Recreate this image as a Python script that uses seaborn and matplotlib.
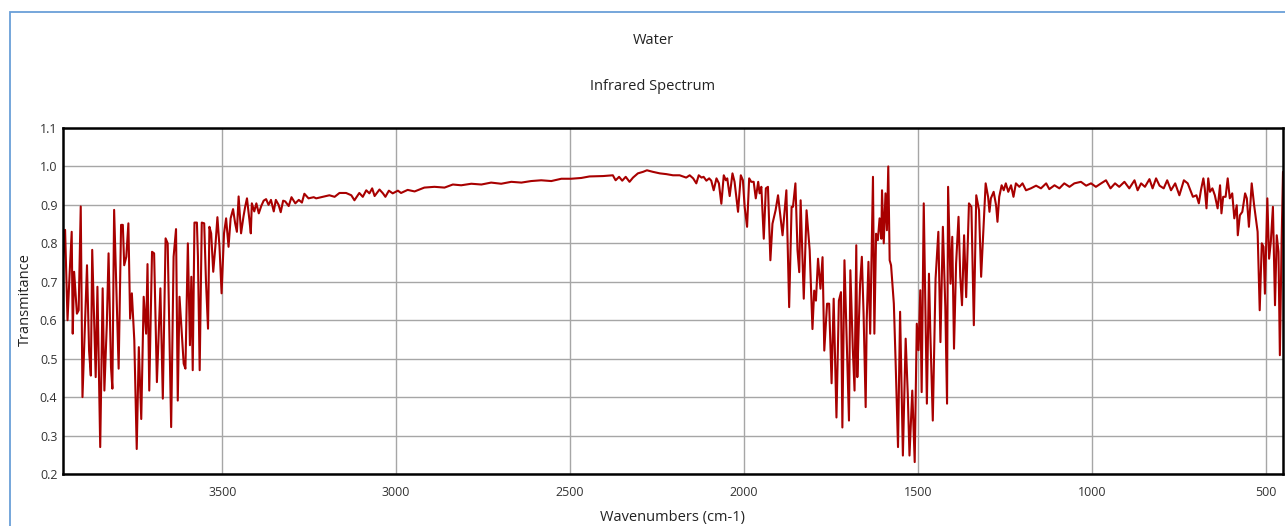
import numpy as np
import pandas as pd
import matplotlib
matplotlib.use("Agg")
import matplotlib.pyplot as plt
from matplotlib.patches import Rectangle
import seaborn as sns

# ---------------- data ----------------
wavenumbers = [
    3958, 3952, 3945, 3939, 3933, 3930, 3926, 3918, 3913, 3907, 3902, 3889, 3883, 3878, 3874,
    3864, 3859, 3851, 3844, 3839, 3832, 3827, 3820, 3816, 3811, 3798, 3791, 3786, 3782, 3776,
    3770, 3765, 3760, 3753, 3746, 3740, 3733, 3726, 3719, 3715, 3710, 3702, 3696, 3688, 3678,
    3671, 3663, 3657, 3647, 3640, 3633, 3628, 3623, 3611, 3606,
    3599, 3593, 3589, 3585, 3580, 3573, 3570, 3565, 3559, 3552, 3547, 3541, 3537, 3532, 3526,
    3520, 3514, 3508, 3502, 3495, 3489, 3482, 3476, 3469, 3463, 3458, 3453, 3446, 3439, 3434,
    3429, 3422, 3418, 3415, 3408, 3402, 3395, 3388, 3381, 3374, 3367, 3360, 3352, 3346, 3338,
    3332, 3325, 3319, 3309, 3301, 3290, 3280, 3271, 3264, 3252, 3237,
    3230, 3211, 3192, 3177, 3163, 3144, 3129, 3120, 3106, 3096, 3086, 3077, 3069, 3062, 3048,
    3038, 3031, 3021, 3010, 2995, 2986, 2967, 2947, 2919, 2890, 2861, 2837, 2813, 2784, 2755,
    2727, 2698, 2669, 2640, 2612, 2583, 2554, 2525, 2497, 2468, 2444,
    2405, 2377, 2369, 2359, 2350, 2340, 2329, 2319, 2305, 2290, 2279, 2262,
    2242, 2223, 2204, 2185, 2166,
    2156, 2146, 2137, 2130, 2122, 2116, 2108, 2100, 2094, 2087, 2079, 2072, 2065, 2058, 2052,
    2048, 2041, 2033, 2027, 2017, 2009, 2003, 1998, 1991, 1985, 1979, 1972, 1966, 1959, 1955,
    1950, 1943, 1937, 1931, 1924, 1918, 1909, 1902, 1889, 1878, 1870, 1863, 1859, 1852, 1846,
    1841, 1837, 1828, 1820, 1811, 1803, 1798, 1793, 1787, 1780, 1774, 1769, 1761, 1755, 1748,
    1742, 1734, 1727, 1721, 1717,
    1711, 1704, 1698, 1694, 1687, 1682, 1677, 1674, 1670, 1666, 1661, 1656, 1650, 1647, 1642,
    1637, 1629, 1625, 1620, 1615, 1610, 1605, 1603, 1598, 1593, 1589, 1585, 1581, 1577, 1569,
    1564, 1557, 1551, 1543, 1535, 1529, 1524, 1516, 1509, 1503, 1498, 1493, 1489, 1483, 1474,
    1468, 1464, 1457, 1449, 1441, 1435, 1428, 1421, 1416, 1413, 1406, 1401, 1396, 1390, 1383,
    1378, 1373, 1367, 1361, 1353, 1346, 1339, 1332, 1324, 1318, 1311, 1305, 1298, 1294,
    1290, 1282, 1275, 1271, 1266, 1259, 1253, 1247, 1240, 1232, 1225, 1218, 1208, 1199, 1189,
    1175, 1160, 1146, 1131, 1122, 1107, 1093, 1079, 1064, 1050, 1031, 1016, 1002, 988, 973,
    959, 946, 933, 921, 906, 892, 877, 868, 858, 847, 834, 825, 815, 805, 793,
    783, 772, 760, 748, 735, 724, 709,
    699, 692, 686, 679, 675, 670, 665, 660, 653, 646, 638, 631, 627, 622, 615,
    609, 603, 596, 590, 583, 580, 574, 567, 559, 554, 548, 540, 533, 528, 523,
    517, 511, 506, 502, 495, 490, 485, 479, 473, 468, 463, 459, 454, 450,
]

transmitance = [
    0.757, 0.835, 0.600, 0.720, 0.830, 0.565, 0.726, 0.617, 0.626, 0.896, 0.400, 0.743, 0.520, 0.456, 0.783,
    0.452, 0.687, 0.270, 0.683, 0.417, 0.590, 0.774, 0.478, 0.422, 0.887, 0.474, 0.848, 0.848, 0.743, 0.765,
    0.852, 0.604, 0.670, 0.548, 0.265, 0.530, 0.343, 0.661, 0.565, 0.746, 0.417, 0.778, 0.774, 0.439, 0.683,
    0.396, 0.813, 0.800, 0.322, 0.765, 0.837, 0.391, 0.661, 0.487, 0.474,
    0.800, 0.535, 0.713, 0.470, 0.854, 0.854, 0.765, 0.470, 0.854, 0.852, 0.704, 0.578, 0.843, 0.826, 0.726,
    0.791, 0.868, 0.791, 0.670, 0.826, 0.865, 0.791, 0.865, 0.889, 0.852, 0.830, 0.922, 0.826, 0.870, 0.896,
    0.917, 0.861, 0.826, 0.904, 0.883, 0.904, 0.878, 0.897, 0.911, 0.915, 0.900, 0.913, 0.883, 0.913, 0.900,
    0.881, 0.911, 0.909, 0.897, 0.920, 0.904, 0.913, 0.906, 0.929, 0.917, 0.920,
    0.917, 0.921, 0.925, 0.921, 0.931, 0.931, 0.925, 0.912, 0.931, 0.921, 0.938, 0.930, 0.943, 0.923, 0.940,
    0.930, 0.921, 0.937, 0.930, 0.937, 0.931, 0.939, 0.935, 0.945, 0.947, 0.945, 0.953, 0.951, 0.955, 0.953,
    0.958, 0.955, 0.960, 0.958, 0.962, 0.964, 0.962, 0.968, 0.968, 0.970, 0.974,
    0.975, 0.977, 0.964, 0.973, 0.963, 0.973, 0.960, 0.971, 0.982, 0.986, 0.990, 0.986,
    0.982, 0.980, 0.977, 0.977, 0.971,
    0.977, 0.969, 0.956, 0.977, 0.971, 0.973, 0.963, 0.969, 0.963, 0.938, 0.969, 0.956, 0.903, 0.977, 0.964,
    0.969, 0.923, 0.982, 0.960, 0.882, 0.977, 0.964, 0.895, 0.843, 0.969, 0.960, 0.960, 0.917, 0.960, 0.930,
    0.947, 0.812, 0.943, 0.947, 0.756, 0.851, 0.886, 0.925, 0.821, 0.938, 0.634, 0.895, 0.895, 0.956, 0.782,
    0.725, 0.912, 0.656, 0.886, 0.782, 0.577, 0.677, 0.651, 0.760, 0.682, 0.764, 0.521, 0.643, 0.643, 0.436,
    0.656, 0.347, 0.651, 0.673, 0.321,
    0.756, 0.530, 0.339, 0.730, 0.526, 0.417, 0.795, 0.452, 0.582, 0.695, 0.765, 0.617, 0.374, 0.600, 0.752,
    0.565, 0.973, 0.565, 0.825, 0.808, 0.865, 0.812, 0.938, 0.800, 0.930, 0.834, 1.000, 0.756, 0.743, 0.643,
    0.495, 0.270, 0.622, 0.248, 0.552, 0.409, 0.248, 0.417, 0.231, 0.591, 0.522, 0.678, 0.413, 0.904, 0.383,
    0.721, 0.565, 0.339, 0.708, 0.830, 0.543, 0.843, 0.635, 0.383, 0.947, 0.695, 0.817, 0.526, 0.747, 0.869,
    0.713, 0.639, 0.821, 0.660, 0.904, 0.895, 0.587, 0.925, 0.886, 0.713, 0.843, 0.956, 0.921, 0.882,
    0.917, 0.934, 0.899, 0.856, 0.921, 0.951, 0.938, 0.956, 0.934, 0.951, 0.921, 0.956, 0.947, 0.956, 0.938,
    0.943, 0.950, 0.943, 0.956, 0.941, 0.951, 0.943, 0.956, 0.947, 0.956, 0.960, 0.950, 0.956, 0.947, 0.956,
    0.964, 0.943, 0.956, 0.947, 0.960, 0.943, 0.964, 0.938, 0.956, 0.947, 0.967, 0.943, 0.969, 0.950, 0.943,
    0.964, 0.938, 0.956, 0.925, 0.964, 0.956, 0.921,
    0.925, 0.904, 0.938, 0.969, 0.943, 0.891, 0.969, 0.934, 0.943, 0.925, 0.891, 0.951, 0.878, 0.921, 0.921,
    0.969, 0.917, 0.930, 0.865, 0.899, 0.821, 0.873, 0.882, 0.930, 0.917, 0.843, 0.956, 0.899, 0.865, 0.830,
    0.626, 0.800, 0.791, 0.669, 0.917, 0.760, 0.804, 0.895, 0.639, 0.821, 0.778, 0.509, 0.804, 0.986,
]

x_ticks = [3500, 3000, 2500, 2000, 1500, 1000, 500]
y_ticks = [0.2, 0.3, 0.4, 0.5, 0.6, 0.7, 0.8, 0.9, 1.0, 1.1]

title = "Water"
subtitle = "Infrared Spectrum"
x_label = "Wavenumbers (cm-1)"
y_label = "Transmitance"

n = min(len(wavenumbers), len(transmitance))
df = pd.DataFrame({"wavenumber": wavenumbers[:n], "T": transmitance[:n]})

# ---------------- styling ----------------
sns.set_style("white")
plt.rcParams["font.family"] = ["Open Sans", "DejaVu Sans"]

W, H = 1285, 526
fig = plt.figure(figsize=(W / 100, H / 100), dpi=100)
fig.patch.set_facecolor("white")

# light-blue frame around the chart area
fig.patches.append(Rectangle((10 / W, -0.05), 1.2, 1 - 12 / H + 0.05,
                             transform=fig.transFigure, fill=False,
                             edgecolor="#6a9fd8", linewidth=1.3, zorder=0))

ax = fig.add_axes([63 / W, 1 - 474 / H, 1220 / W, 346 / H])
sns.lineplot(data=df, x="wavenumber", y="T", ax=ax, color="#a80000",
             linewidth=1.5, estimator=None, sort=False)

ax.set_xlim(3958, 450)
ax.set_ylim(0.2, 1.1)
ax.set_xticks(x_ticks)
ax.set_xticklabels([str(v) for v in x_ticks])
ax.set_yticks(y_ticks)
ax.set_yticklabels([f"{v:.1f}" for v in y_ticks])
ax.grid(True, color="#a6a6a6", linewidth=1.0)
ax.set_axisbelow(True)
for s in ax.spines.values():
    s.set_visible(True)
    s.set_color("black")
    s.set_linewidth(1.8)
ax.tick_params(axis="both", length=0, labelsize=9, labelcolor="#333333")
ax.tick_params(axis="x", pad=9)
ax.tick_params(axis="y", pad=4)
ax.set_xlabel("")
ax.set_ylabel("")

fig.text(653 / W, 1 - 40 / H, title, ha="center", va="center", fontsize=10.5, color="#222222")
fig.text(653 / W, 1 - 86 / H, subtitle, ha="center", va="center", fontsize=10.5, color="#222222")
fig.text(672 / W, 1 - 517 / H, x_label, ha="center", va="center", fontsize=10.5, color="#222222")
fig.text(25 / W, 1 - 300 / H, y_label, ha="center", va="center", rotation=90, fontsize=10.5, color="#222222")

fig.savefig("out.png", dpi=100)
